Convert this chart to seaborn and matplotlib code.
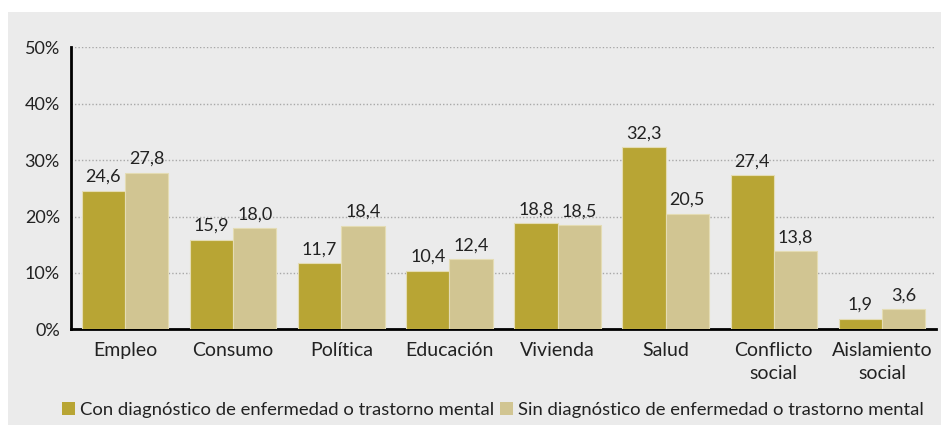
import matplotlib
matplotlib.use("Agg")
import matplotlib.pyplot as plt
import seaborn as sns
import pandas as pd
import numpy as np
from matplotlib.patches import Rectangle, Patch

categories = ["Empleo", "Consumo", "Política", "Educación", "Vivienda", "Salud",
              "Conflicto\nsocial", "Aislamiento\nsocial"]
con_diag = [24.6, 15.9, 11.7, 10.4, 18.8, 32.3, 27.4, 1.9]
sin_diag = [27.8, 18.0, 18.4, 12.4, 18.5, 20.5, 13.8, 3.6]
series = ["Con diagnóstico de enfermedad o trastorno mental",
          "Sin diagnóstico de enfermedad o trastorno mental"]
yticks = [0, 10, 20, 30, 40, 50]

df = pd.DataFrame({
    "cat": categories * 2,
    "val": con_diag + sin_diag,
    "serie": [series[0]] * len(categories) + [series[1]] * len(categories),
})

sns.set_theme(style="white")
plt.rcParams["font.family"] = ["Lato", "DejaVu Sans"]
txt = "#222222"
bg = "#ebebeb"
colors = ["#b8a534", "#d1c592"]

fig = plt.figure(figsize=(9.41, 4.25), dpi=100)
fig.patch.set_facecolor("white")
fig.patches.append(Rectangle((8 / 941, 0), 1, 1 - 12 / 425, transform=fig.transFigure,
                             facecolor=bg, edgecolor="none", zorder=-10))
ax = fig.add_axes([71 / 941, (425 - 329.3) / 425, (936 - 71) / 941, (329.3 - 47.3) / 425])
ax.set_facecolor(bg)

sns.barplot(data=df, x="cat", y="val", hue="serie", palette=colors, width=0.8,
            saturation=1, edgecolor="#e4dcb4", linewidth=0.8, ax=ax, legend=False, zorder=3)

for cont, vals in zip(ax.containers, [con_diag, sin_diag]):
    ax.bar_label(cont, labels=[f"{v:.1f}".replace(".", ",") for v in vals],
                 padding=4, fontsize=13, color=txt)

ax.set_ylim(0, 50)
ax.set_xlim(-0.5, len(categories) - 0.5)
ax.set_yticks(yticks)
ax.set_yticklabels([f"{t}%" for t in yticks], fontsize=13, color=txt)
for t in yticks[1:]:
    ax.axhline(t, color="#a8a8a8", lw=1, ls=(0, (1, 1.5)), zorder=1)

ax.set_xticks(range(len(categories)))
ax.set_xticklabels(categories, fontsize=14, color=txt, linespacing=1.45)
ax.set_xticks(np.arange(-0.5, len(categories), 1), minor=True)
ax.tick_params(axis="x", which="major", length=0, pad=9)
ax.tick_params(axis="x", which="minor", length=5, width=1.5, color="black", direction="out")
ax.tick_params(axis="y", length=5, width=1.5, color="black", direction="out", pad=3)
ax.set_xlabel("")
ax.set_ylabel("")

for s in ["top", "right"]:
    ax.spines[s].set_visible(False)
for s in ["left", "bottom"]:
    ax.spines[s].set_color("black")
    ax.spines[s].set_linewidth(2)

handles = [Patch(facecolor=c, edgecolor="none") for c in colors]
fig.legend(handles, series, loc="center", bbox_to_anchor=(493 / 941, 1 - 410 / 425),
           ncol=2, frameon=False, fontsize=13.3, handlelength=0.7, handleheight=0.7,
           handletextpad=0.3, columnspacing=0.3, labelcolor=txt)

fig.savefig("out.png", dpi=100, facecolor=fig.get_facecolor())
